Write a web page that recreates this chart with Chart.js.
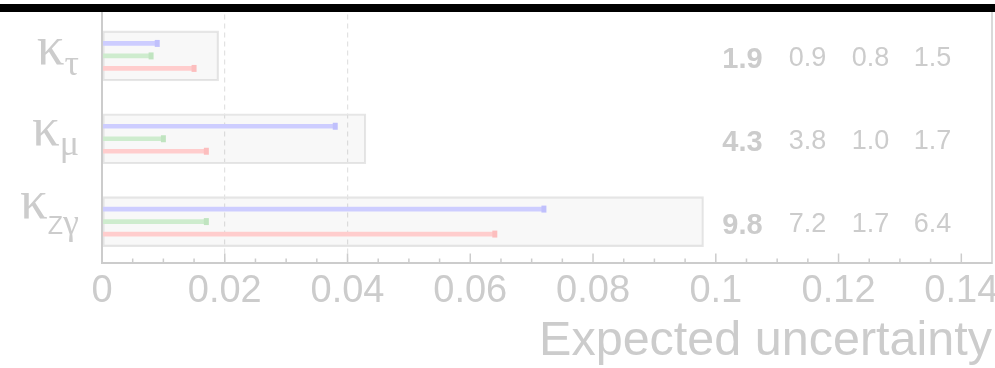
<!DOCTYPE html>
<html>
<head>
<meta charset="utf-8">
<script src="https://cdn.jsdelivr.net/npm/chart.js@4/dist/chart.umd.min.js"></script>
<style>
  html, body { margin: 0; padding: 0; background: #ffffff; }
  canvas { display: block; }
</style>
</head>
<body>
<canvas id="chart" width="995" height="368"></canvas>
<script>
// Coupling modifiers (main symbol _ subscript) and their expected relative uncertainties
const categories = ['κ_τ', 'κ_μ', 'κ_Zγ'];
const totalUnc = [0.019, 0.043, 0.098];
const blueUnc  = [0.009, 0.038, 0.072];
const greenUnc = [0.008, 0.010, 0.017];
const redUnc   = [0.015, 0.017, 0.064];

// x axis ticks
const xTickValues = [0, 0.02, 0.04, 0.06, 0.08, 0.1, 0.12, 0.14];
const xTickLabels = ['0', '0.02', '0.04', '0.06', '0.08', '0.1', '0.12', '0.14'];
const dashedGridAt = [0.02, 0.04];

const GREY = '#cccccc';
const SANS = '"Liberation Sans", Arial, Helvetica, sans-serif';
const SERIF = '"Liberation Serif", "Times New Roman", serif';

// Text columns to the right: total in bold, then the three components
const numberColumns = [742.5, 807.5, 870.5, 932.5];
// Vertical offsets of the main symbol and its subscript per row
const labelShift = [
  { main: 8.5, sub: 19.5 },
  { main: 6.5, sub: 16 },
  { main: -3.5, sub: 12 }
];

const pct = v => (v * 100).toFixed(1);

const decorations = {
  id: 'decorations',
  afterDatasetsDraw(chart) {
    const ctx = chart.ctx;
    // square end caps on the component lines
    chart.data.datasets.forEach((ds, di) => {
      if (!ds.capColor) return;
      const meta = chart.getDatasetMeta(di);
      ctx.save();
      ctx.fillStyle = ds.capColor;
      meta.data.forEach(el => {
        ctx.fillRect(el.x - 2.5, el.y - 3.5, 5, 7);
      });
      ctx.restore();
    });
  },
  afterDraw(chart) {
    const ctx = chart.ctx;
    const area = chart.chartArea;
    const xs = chart.scales.x;
    const ys = chart.scales.y;

    ctx.save();
    // frame: left axis and right edge
    ctx.strokeStyle = GREY;
    ctx.lineWidth = 2;
    ctx.beginPath();
    ctx.moveTo(area.left, 12);
    ctx.lineTo(area.left, area.bottom + 1);
    ctx.stroke();
    ctx.lineWidth = 1.5;
    ctx.beginPath();
    ctx.moveTo(area.right, 12);
    ctx.lineTo(area.right, area.bottom + 1);
    ctx.stroke();

    // inward tick marks: major every 0.02, minor every 0.005
    ctx.lineWidth = 1.5;
    for (let i = 1; i * 0.005 <= xs.max + 1e-9; i++) {
      const px = xs.getPixelForValue(i * 0.005);
      if (px >= area.right - 1) break;
      const len = (i % 4 === 0) ? 9.5 : 4.5;
      ctx.beginPath();
      ctx.moveTo(px, area.bottom);
      ctx.lineTo(px, area.bottom - len);
      ctx.stroke();
    }

    // heavy bar along the top
    ctx.fillStyle = '#000000';
    ctx.fillRect(0, 4, chart.width, 8);

    // row labels: κ with subscript
    ctx.fillStyle = GREY;
    ctx.textBaseline = 'alphabetic';
    ctx.textAlign = 'left';
    const labelRight = 79;
    categories.forEach((cat, i) => {
      const yc = ys.getPixelForValue(i);
      const [main, sub] = cat.split('_');
      const mainFont = '55px ' + SERIF;
      const pieces = [];
      for (const ch of sub) {
        const latin = /[A-Za-z]/.test(ch);
        pieces.push({ ch, font: latin ? ('25px ' + SANS) : ('36px ' + SERIF) });
      }
      ctx.font = mainFont;
      const wMain = ctx.measureText(main).width;
      let wSub = 0;
      pieces.forEach(p => { ctx.font = p.font; p.w = ctx.measureText(p.ch).width; wSub += p.w; });
      let x = labelRight - wSub - wMain;
      ctx.font = mainFont;
      ctx.fillText(main, x, yc + labelShift[i].main);
      x += wMain;
      pieces.forEach(p => {
        ctx.font = p.font;
        ctx.fillText(p.ch, x, yc + labelShift[i].sub);
        x += p.w;
      });
    });

    // numbers: total (bold) and components
    ctx.textAlign = 'center';
    categories.forEach((cat, i) => {
      const yc = ys.getPixelForValue(i);
      ctx.font = 'bold 29px ' + SANS;
      ctx.fillText(pct(totalUnc[i]), numberColumns[0], yc + 12);
      ctx.font = '27px ' + SANS;
      ctx.fillText(pct(blueUnc[i]), numberColumns[1], yc + 10.3);
      ctx.fillText(pct(greenUnc[i]), numberColumns[2], yc + 10.3);
      ctx.fillText(pct(redUnc[i]), numberColumns[3], yc + 10.3);
    });
    ctx.restore();
  }
};

const lineStyle = {
  barThickness: 12.5,
  maxBarThickness: 4,
  borderWidth: 0,
  order: 0
};

new Chart(document.getElementById('chart'), {
  type: 'bar',
  data: {
    labels: categories,
    datasets: [
      Object.assign({ label: 'blue', data: blueUnc, backgroundColor: 'rgb(205,205,255)', capColor: 'rgb(192,192,252)' }, lineStyle),
      Object.assign({ label: 'green', data: greenUnc, backgroundColor: 'rgb(206,236,206)', capColor: 'rgb(192,228,192)' }, lineStyle),
      Object.assign({ label: 'red', data: redUnc, backgroundColor: 'rgb(255,205,205)', capColor: 'rgb(252,190,190)' }, lineStyle),
      {
        label: 'total',
        data: totalUnc,
        grouped: false,
        barThickness: 50,
        backgroundColor: 'rgba(0,0,0,0.028)',
        borderColor: '#e6e6e6',
        borderWidth: 1.5,
        borderSkipped: false,
        order: 1
      }
    ]
  },
  options: {
    indexAxis: 'y',
    responsive: false,
    animation: false,
    events: [],
    layout: { padding: { top: 14.5, right: 3, left: 0, bottom: 0 } },
    plugins: {
      legend: { display: false },
      tooltip: { enabled: false }
    },
    scales: {
      y: {
        type: 'category',
        offset: true,
        ticks: { display: false },
        grid: { display: false, drawTicks: false },
        border: { display: false },
        afterFit(scale) { scale.width = 102; }
      },
      x: {
        type: 'linear',
        min: 0,
        max: 0.145,
        afterBuildTicks(scale) { scale.ticks = xTickValues.map(v => ({ value: v })); },
        afterFit(scale) {
          scale.height = 105;
          scale.paddingLeft = 0;
          scale.paddingRight = 0;
        },
        ticks: {
          autoSkip: false,
          maxRotation: 0,
          padding: 10,
          color: GREY,
          font: { family: SANS, size: 38, lineHeight: 1 },
          callback: (v, i) => xTickLabels[i]
        },
        grid: {
          drawTicks: false,
          drawOnChartArea: true,
          lineWidth: 1.2,
          color: c => (c.tick && dashedGridAt.some(d => Math.abs(d - c.tick.value) < 1e-9)) ? '#e2e2e2' : 'rgba(0,0,0,0)'
        },
        border: { display: true, color: GREY, width: 2, dash: [5, 4] },
        title: {
          display: true,
          text: 'Expected uncertainty',
          align: 'end',
          color: GREY,
          font: { family: SANS, size: 48.5, lineHeight: 1 },
          padding: { top: 0, bottom: 2 }
        }
      }
    }
  },
  plugins: [decorations]
});
</script>
</body>
</html>
